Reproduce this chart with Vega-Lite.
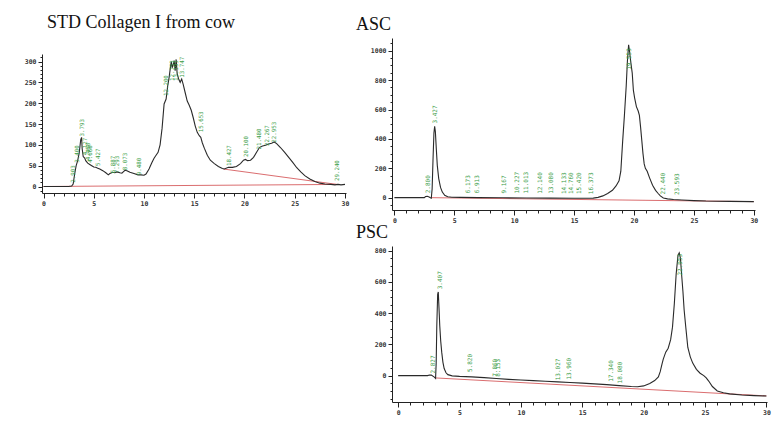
{
  "$schema": "https://vega.github.io/schema/vega-lite/v6.json",
  "padding": {"left": 24, "top": 14, "right": 5, "bottom": 5},
  "background": "white",
  "bounds": "flush",
  "spacing": 350,
  "config": {
    "view": {"stroke": null},
    "axis": {"grid": false, "domainColor": "#222", "tickColor": "#222", "domainWidth": 1, "tickWidth": 1, "labelFont": "DejaVu Sans Mono", "labelFontSize": 6.5, "labelFontWeight": "bold", "labelColor": "#333", "labelOverlap": false, "labelFlush": false},
    "title": {"font": "Liberation Serif", "fontSize": 18, "fontWeight": "normal", "color": "#111", "anchor": "start", "frame": "group"}
  },
  "datasets": {
    "std": [
      {"t":0,"v":0},{"t":2.5,"v":0},{"t":2.8,"v":1},{"t":2.95,"v":6},{"t":3.1,"v":30},{"t":3.25,"v":50},{"t":3.4,"v":62},{"t":3.55,"v":80},{"t":3.7,"v":112},{"t":3.79,"v":118},{"t":3.85,"v":90},{"t":3.95,"v":72},{"t":4.1,"v":68},{"t":4.2,"v":62},{"t":4.4,"v":56},{"t":4.6,"v":53},{"t":4.8,"v":50},{"t":5.0,"v":47},{"t":5.2,"v":46},{"t":5.4,"v":44},{"t":5.6,"v":42},{"t":5.9,"v":38},{"t":6.2,"v":33},{"t":6.45,"v":28},{"t":6.6,"v":31},{"t":6.9,"v":34},{"t":7.1,"v":33},{"t":7.3,"v":35},{"t":7.6,"v":33},{"t":7.8,"v":32},{"t":8.1,"v":39},{"t":8.3,"v":38},{"t":8.6,"v":34},{"t":9.0,"v":31},{"t":9.4,"v":28},{"t":9.7,"v":28},{"t":10.0,"v":27},{"t":10.2,"v":30},{"t":10.5,"v":42},{"t":10.8,"v":58},{"t":11.0,"v":68},{"t":11.2,"v":75},{"t":11.4,"v":82},{"t":11.6,"v":100},{"t":11.8,"v":140},{"t":12.0,"v":198},{"t":12.2,"v":210},{"t":12.35,"v":240},{"t":12.5,"v":262},{"t":12.65,"v":290},{"t":12.72,"v":300},{"t":12.8,"v":285},{"t":12.9,"v":292},{"t":13.0,"v":302},{"t":13.1,"v":278},{"t":13.2,"v":305},{"t":13.3,"v":270},{"t":13.45,"v":258},{"t":13.6,"v":250},{"t":13.75,"v":258},{"t":13.9,"v":245},{"t":14.1,"v":225},{"t":14.3,"v":205},{"t":14.5,"v":195},{"t":14.7,"v":183},{"t":14.9,"v":165},{"t":15.1,"v":145},{"t":15.3,"v":130},{"t":15.5,"v":122},{"t":15.65,"v":118},{"t":15.8,"v":105},{"t":16.0,"v":92},{"t":16.3,"v":75},{"t":16.6,"v":63},{"t":17.0,"v":55},{"t":17.4,"v":48},{"t":17.8,"v":43},{"t":18.0,"v":42},{"t":18.4,"v":46},{"t":18.8,"v":46},{"t":19.2,"v":48},{"t":19.6,"v":55},{"t":19.9,"v":63},{"t":20.1,"v":65},{"t":20.3,"v":62},{"t":20.6,"v":63},{"t":20.9,"v":70},{"t":21.2,"v":82},{"t":21.5,"v":94},{"t":21.8,"v":97},{"t":22.1,"v":99},{"t":22.4,"v":102},{"t":22.7,"v":104},{"t":22.95,"v":107},{"t":23.2,"v":103},{"t":23.6,"v":93},{"t":24.0,"v":82},{"t":24.4,"v":70},{"t":24.8,"v":58},{"t":25.2,"v":45},{"t":25.6,"v":35},{"t":26.0,"v":26},{"t":26.5,"v":18},{"t":27.0,"v":12},{"t":27.5,"v":8},{"t":28.0,"v":6},{"t":28.6,"v":5},{"t":29.0,"v":4},{"t":29.3,"v":5},{"t":29.6,"v":4},{"t":30.0,"v":5}
    ],
    "std_base": [
      {"seg":"a","t":0,"v":0},{"seg":"a","t":29.5,"v":5},
      {"seg":"b","t":17.9,"v":42},{"seg":"b","t":29.2,"v":5}
    ],
    "std_peaks": [
      {"t":2.903,"v":9,"label":"2.903"},{"t":3.35,"v":57,"label":"3.400"},{"t":3.793,"v":120,"label":"3.793"},{"t":4.127,"v":75,"label":"4.127"},{"t":4.468,"v":63,"label":"4.468"},{"t":4.668,"v":57,"label":"4.668"},{"t":5.427,"v":49,"label":"5.427"},{"t":6.887,"v":32,"label":"6.887"},{"t":7.293,"v":32,"label":"7.293"},{"t":8.073,"v":39,"label":"8.073"},{"t":9.48,"v":27,"label":"9.480"},{"t":12.2,"v":217,"label":"12.200"},{"t":12.753,"v":253,"label":"12.753"},{"t":13.193,"v":253,"label":"13.193"},{"t":13.747,"v":261,"label":"13.747"},{"t":15.653,"v":130,"label":"15.653"},{"t":18.427,"v":49,"label":"18.427"},{"t":20.1,"v":71,"label":"20.100"},{"t":21.48,"v":89,"label":"21.480"},{"t":22.267,"v":97,"label":"22.267"},{"t":22.953,"v":105,"label":"22.953"},{"t":29.24,"v":13,"label":"29.240"}
    ],
    "asc": [
      {"t":0,"v":0},{"t":2.5,"v":0},{"t":2.6,"v":8},{"t":2.75,"v":10},{"t":2.9,"v":5},{"t":3.0,"v":0},{"t":3.08,"v":-3},{"t":3.15,"v":60},{"t":3.22,"v":250},{"t":3.3,"v":440},{"t":3.36,"v":485},{"t":3.42,"v":450},{"t":3.5,"v":330},{"t":3.58,"v":220},{"t":3.7,"v":130},{"t":3.85,"v":70},{"t":4.0,"v":38},{"t":4.2,"v":16},{"t":4.45,"v":6},{"t":4.8,"v":3},{"t":5.5,"v":2},{"t":7,"v":0},{"t":9,"v":-1},{"t":11,"v":-2},{"t":13,"v":-3},{"t":15,"v":-4},{"t":16,"v":-4},{"t":16.6,"v":-3},{"t":17.0,"v":2},{"t":17.4,"v":12},{"t":17.8,"v":28},{"t":18.2,"v":50},{"t":18.5,"v":80},{"t":18.75,"v":115},{"t":18.9,"v":180},{"t":19.05,"v":380},{"t":19.2,"v":560},{"t":19.35,"v":760},{"t":19.45,"v":930},{"t":19.55,"v":1040},{"t":19.62,"v":1000},{"t":19.72,"v":930},{"t":19.85,"v":850},{"t":19.95,"v":730},{"t":20.05,"v":680},{"t":20.2,"v":620},{"t":20.35,"v":590},{"t":20.45,"v":560},{"t":20.55,"v":480},{"t":20.65,"v":390},{"t":20.75,"v":300},{"t":20.85,"v":230},{"t":20.95,"v":200},{"t":21.1,"v":180},{"t":21.3,"v":135},{"t":21.55,"v":85},{"t":21.8,"v":50},{"t":22.0,"v":30},{"t":22.2,"v":12},{"t":22.45,"v":-2},{"t":22.8,"v":-8},{"t":23.3,"v":-12},{"t":24,"v":-16},{"t":25,"v":-20},{"t":26,"v":-23},{"t":28,"v":-25},{"t":30,"v":-27}
    ],
    "asc_base": [
      {"seg":"a","t":3.05,"v":0},{"seg":"a","t":30,"v":-27}
    ],
    "asc_peaks": [
      {"t":2.8,"v":30,"label":"2.800"},{"t":3.427,"v":505,"label":"3.427"},{"t":6.173,"v":30,"label":"6.173"},{"t":6.913,"v":30,"label":"6.913"},{"t":9.167,"v":28,"label":"9.167"},{"t":10.227,"v":28,"label":"10.227"},{"t":11.013,"v":28,"label":"11.013"},{"t":12.14,"v":26,"label":"12.140"},{"t":13.08,"v":26,"label":"13.080"},{"t":14.133,"v":25,"label":"14.133"},{"t":14.76,"v":25,"label":"14.760"},{"t":15.42,"v":25,"label":"15.420"},{"t":16.373,"v":24,"label":"16.373"},{"t":19.553,"v":870,"label":"19.553"},{"t":22.44,"v":22,"label":"22.440"},{"t":23.593,"v":18,"label":"23.593"}
    ],
    "psc": [
      {"t":0,"v":0},{"t":2.4,"v":0},{"t":2.55,"v":4},{"t":2.7,"v":3},{"t":2.95,"v":-10},{"t":3.05,"v":-18},{"t":3.1,"v":80},{"t":3.15,"v":320},{"t":3.22,"v":520},{"t":3.27,"v":535},{"t":3.33,"v":430},{"t":3.39,"v":320},{"t":3.47,"v":220},{"t":3.55,"v":150},{"t":3.65,"v":85},{"t":3.75,"v":45},{"t":3.9,"v":18},{"t":4.05,"v":6},{"t":4.4,"v":-2},{"t":5,"v":-5},{"t":6,"v":-8},{"t":7,"v":-13},{"t":8,"v":-19},{"t":9,"v":-24},{"t":10,"v":-28},{"t":11,"v":-32},{"t":12,"v":-36},{"t":13,"v":-40},{"t":14,"v":-44},{"t":15,"v":-48},{"t":16,"v":-53},{"t":17,"v":-58},{"t":18,"v":-64},{"t":19,"v":-70},{"t":19.5,"v":-71},{"t":20,"v":-66},{"t":20.5,"v":-50},{"t":20.9,"v":-32},{"t":21.2,"v":-8},{"t":21.35,"v":25},{"t":21.5,"v":75},{"t":21.6,"v":105},{"t":21.8,"v":150},{"t":22.0,"v":175},{"t":22.2,"v":230},{"t":22.35,"v":310},{"t":22.5,"v":460},{"t":22.65,"v":650},{"t":22.8,"v":770},{"t":22.9,"v":785},{"t":23.0,"v":750},{"t":23.1,"v":640},{"t":23.2,"v":540},{"t":23.3,"v":420},{"t":23.42,"v":320},{"t":23.6,"v":180},{"t":23.8,"v":120},{"t":24.0,"v":80},{"t":24.3,"v":40},{"t":24.6,"v":15},{"t":24.9,"v":0},{"t":25.1,"v":-15},{"t":25.3,"v":-35},{"t":25.6,"v":-70},{"t":26.0,"v":-98},{"t":26.5,"v":-110},{"t":27,"v":-117},{"t":28,"v":-124},{"t":29,"v":-128},{"t":30,"v":-131}
    ],
    "psc_base": [
      {"seg":"a","t":3.05,"v":-15},{"seg":"a","t":30,"v":-130}
    ],
    "psc_peaks": [
      {"t":2.827,"v":13,"label":"2.827"},{"t":3.407,"v":552,"label":"3.407"},{"t":5.82,"v":23,"label":"5.820"},{"t":7.86,"v":-8,"label":"7.860"},{"t":8.153,"v":-8,"label":"8.153"},{"t":13.027,"v":-30,"label":"13.027"},{"t":13.96,"v":-25,"label":"13.960"},{"t":17.34,"v":-40,"label":"17.340"},{"t":18.08,"v":-50,"label":"18.080"},{"t":22.953,"v":640,"label":"22.953"}
    ]
  },
  "hconcat": [
    {
      "bounds": "flush",
      "spacing": 15,
      "vconcat": [
        {"width": 304, "height": 1, "data": {"values": [{}]}, "mark": {"type": "point", "opacity": 0}},
        {
          "width": 304, "height": 139,
          "title": {"text": "STD Collagen I from cow", "offset": 22, "dx": 5},
          "encoding": {
            "x": {"field": "t", "type": "quantitative", "scale": {"domain": [-0.15, 30.1], "nice": false, "zero": false},
              "axis": {"title": null, "format": "d", "values": [0,1,2,3,4,5,6,7,8,9,10,11,12,13,14,15,16,17,18,19,20,21,22,23,24,25,26,27,28,29,30],
                "labelExpr": "datum.value % 5 === 0 ? datum.label : ''",
                "tickSize": {"condition": {"test": "datum.value % 5 === 0", "value": 5}, "value": 3}, "labelPadding": 2}},
            "y": {"field": "v", "type": "quantitative", "scale": {"domain": [-15.6, 318], "nice": false, "zero": false},
              "axis": {"title": null, "format": "d", "values": [-10,0,10,20,30,40,50,60,70,80,90,100,110,120,130,140,150,160,170,180,190,200,210,220,230,240,250,260,270,280,290,300,310],
                "labelExpr": "datum.value >= 0 && datum.value % 50 === 0 ? datum.label : ''",
                "tickSize": {"condition": {"test": "datum.value % 50 === 0", "value": 4}, "value": 2}, "labelPadding": 2}}
          },
          "layer": [
            {"data": {"name": "std_base"}, "mark": {"type": "line", "color": "#d0474a", "strokeWidth": 0.8}, "encoding": {"detail": {"field": "seg"}}},
            {"data": {"name": "std"}, "mark": {"type": "line", "color": "#2a2a2a", "strokeWidth": 1.1}},
            {"data": {"name": "std_peaks"}, "mark": {"type": "text", "angle": 270, "align": "left", "baseline": "middle", "font": "DejaVu Sans Mono", "fontSize": 5.8, "color": "#3a9d48"}, "encoding": {"text": {"field": "label"}}}
          ]
        }
      ]
    },
    {
      "bounds": "flush",
      "spacing": 36,
      "vconcat": [
        {
          "width": 363, "height": 172,
          "title": {"text": "ASC", "offset": 4, "dx": -36},
          "encoding": {
            "x": {"field": "t", "type": "quantitative", "scale": {"domain": [-0.2, 30.1], "nice": false, "zero": false},
              "axis": {"title": null, "format": "d", "values": [0,1,2,3,4,5,6,7,8,9,10,11,12,13,14,15,16,17,18,19,20,21,22,23,24,25,26,27,28,29,30],
                "labelExpr": "datum.value % 5 === 0 ? datum.label : ''",
                "tickSize": {"condition": {"test": "datum.value % 5 === 0", "value": 5}, "value": 3}, "labelPadding": 2}},
            "y": {"field": "v", "type": "quantitative", "scale": {"domain": [-84, 1087], "nice": false, "zero": false},
              "axis": {"title": null, "format": "d", "values": [-50,0,50,100,150,200,250,300,350,400,450,500,550,600,650,700,750,800,850,900,950,1000,1050],
                "labelExpr": "datum.value >= 0 && datum.value % 200 === 0 ? datum.label : ''",
                "tickSize": {"condition": {"test": "datum.value % 200 === 0", "value": 4}, "value": 2}, "labelPadding": 2}}
          },
          "layer": [
            {"data": {"name": "asc_base"}, "mark": {"type": "line", "color": "#d0474a", "strokeWidth": 0.8}, "encoding": {"detail": {"field": "seg"}}},
            {"data": {"name": "asc"}, "mark": {"type": "line", "color": "#2a2a2a", "strokeWidth": 1.1}},
            {"data": {"name": "asc_peaks"}, "mark": {"type": "text", "angle": 270, "align": "left", "baseline": "middle", "font": "DejaVu Sans Mono", "fontSize": 6, "color": "#3a9d48"}, "encoding": {"text": {"field": "label"}}}
          ]
        },
        {
          "width": 375, "height": 156,
          "title": {"text": "PSC", "offset": 4, "dx": -36},
          "encoding": {
            "x": {"field": "t", "type": "quantitative", "scale": {"domain": [-0.5, 30.05], "nice": false, "zero": false},
              "axis": {"title": null, "format": "d", "values": [0,1,2,3,4,5,6,7,8,9,10,11,12,13,14,15,16,17,18,19,20,21,22,23,24,25,26,27,28,29,30],
                "labelExpr": "datum.value % 5 === 0 ? datum.label : ''",
                "tickSize": {"condition": {"test": "datum.value % 5 === 0", "value": 5}, "value": 3}, "labelPadding": 2}},
            "y": {"field": "v", "type": "quantitative", "scale": {"domain": [-169, 829], "nice": false, "zero": false},
              "axis": {"title": null, "format": "d", "values": [-150,-100,-50,0,50,100,150,200,250,300,350,400,450,500,550,600,650,700,750,800],
                "labelExpr": "datum.value >= 0 && datum.value % 200 === 0 ? datum.label : ''",
                "tickSize": {"condition": {"test": "datum.value % 200 === 0", "value": 4}, "value": 2}, "labelPadding": 2}}
          },
          "layer": [
            {"data": {"name": "psc_base"}, "mark": {"type": "line", "color": "#d0474a", "strokeWidth": 0.8}, "encoding": {"detail": {"field": "seg"}}},
            {"data": {"name": "psc"}, "mark": {"type": "line", "color": "#2a2a2a", "strokeWidth": 1.1}},
            {"data": {"name": "psc_peaks"}, "mark": {"type": "text", "angle": 270, "align": "left", "baseline": "middle", "font": "DejaVu Sans Mono", "fontSize": 6, "color": "#3a9d48"}, "encoding": {"text": {"field": "label"}}}
          ]
        }
      ]
    }
  ]
}
